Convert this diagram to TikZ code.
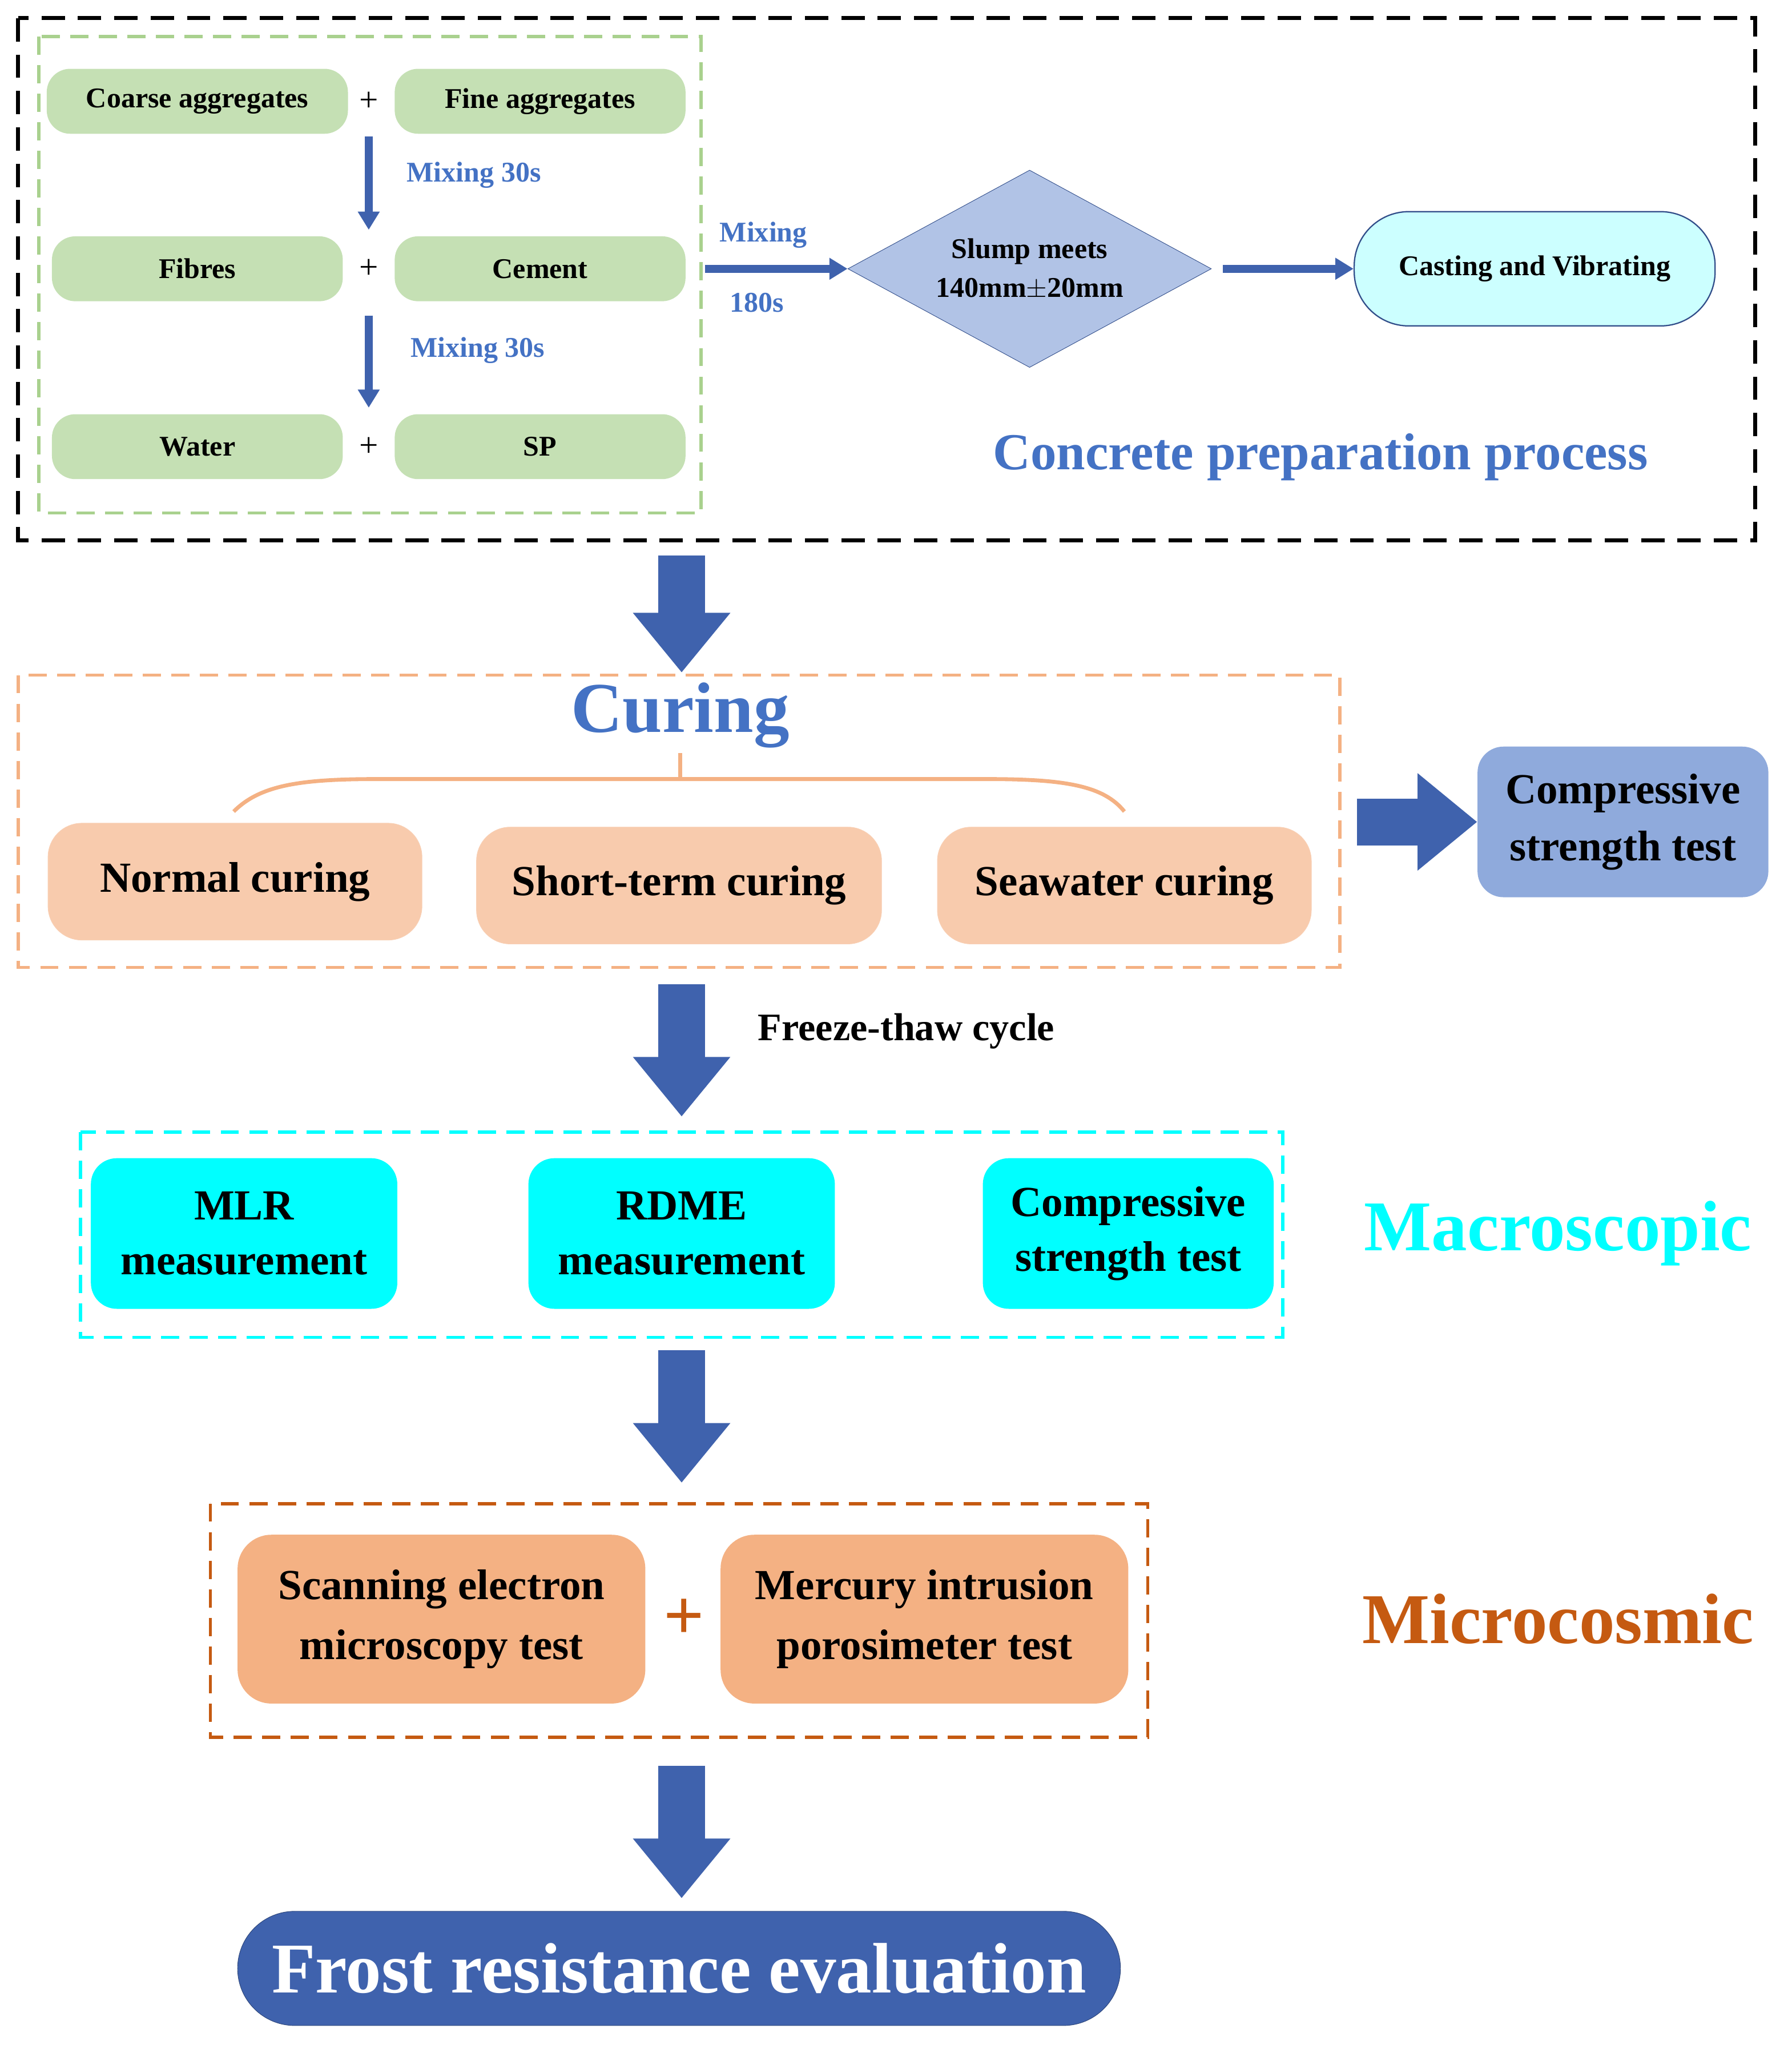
\documentclass[tikz,border=0pt]{standalone}
\usepackage{fontspec}
\setmainfont{Liberation Serif}
\usetikzlibrary{arrows.meta,shapes.geometric}
\definecolor{arrowblue}{HTML}{3F62AD}
\definecolor{textblue}{HTML}{4472C4}
\definecolor{greenfill}{HTML}{C5E0B4}
\definecolor{greenline}{HTML}{A9D18E}
\definecolor{orangefill}{HTML}{F8CBAD}
\definecolor{orangeline}{HTML}{F4B183}
\definecolor{brownline}{HTML}{C55A11}
\definecolor{brownfill}{HTML}{F4B183}
\definecolor{steelfill}{HTML}{8FAADC}
\definecolor{aqua}{HTML}{00FFFF}
\tikzset{
  mix/.style={rounded corners=18pt,fill=greenfill,draw=none,minimum height=50pt,font=\bfseries\fontsize{22}{24}\selectfont},
  cure/.style={rounded corners=26pt,fill=orangefill,draw=orangeline!60,minimum width=288pt,minimum height=90pt,font=\bfseries\fontsize{33}{36}\selectfont},
  macro/.style={rounded corners=20pt,fill=aqua,draw=none,minimum height=116pt,align=center,font=\bfseries\fontsize{33}{42}\selectfont},
  micro/.style={rounded corners=26pt,fill=brownfill,draw=none,minimum width=314pt,minimum height=130pt,align=center,font=\bfseries\fontsize{33}{46}\selectfont},
  smallarrow/.style={draw=arrowblue,line width=6pt,-{Triangle[width=16pt,length=14pt]}},
  bigarrow/.style={draw=arrowblue,line width=36pt,-{Triangle[width=72pt,length=46pt]}},
  mixlabel/.style={text=textblue,font=\bfseries\fontsize{22}{24}\selectfont},
  plus/.style={font=\fontsize{26}{28}\selectfont},
}
\begin{document}
\begin{tikzpicture}[x=1pt,y=1pt,yscale=-1]
\useasboundingbox (0,0) rectangle (1380,1575);

% concrete preparation
\draw[dashed,line width=3pt,dash pattern=on 18pt off 10pt] (14,14) rectangle (1352,416);
\draw[dashed,line width=2.5pt,greenline,dash pattern=on 14pt off 8pt] (30,28) rectangle (540,395);
\node[mix,minimum width=232pt] (coarse) at (152,78) {Coarse aggregates};
\node[mix,minimum width=224pt] (fine) at (416,78) {Fine aggregates};
\node[mix,minimum width=224pt] (fibres) at (152,207) {Fibres};
\node[mix,minimum width=224pt] (cement) at (416,207) {Cement};
\node[mix,minimum width=224pt] (water) at (152,344) {Water};
\node[mix,minimum width=224pt] (sp) at (416,344) {SP};
\node[plus] (p1) at (284,78) {+};
\node[plus] (p2) at (284,207) {+};
\node[plus] (p3) at (284,344) {+};
\draw[smallarrow] (284,105) -- (284,177);
\node[mixlabel] at (365,135) {Mixing 30s};
\draw[smallarrow] (284,243) -- (284,314);
\node[mixlabel] at (368,270) {Mixing 30s};
\node[diamond,draw=arrowblue!80!black,fill=steelfill!70,minimum width=280pt,minimum height=152pt,inner sep=0pt,align=center,font=\bfseries\fontsize{22}{30}\selectfont] (slump) at (793,207) {};
\node[align=center,font=\bfseries\fontsize{22}{30}\selectfont] at (slump) {Slump meets\\140mm$\pm$20mm};
\node[rounded corners=42pt,fill=aqua!20,draw=arrowblue!80!black,line width=1pt,minimum width=278pt,minimum height=88pt,font=\bfseries\fontsize{22}{24}\selectfont] (cast) at (1182,207) {Casting and Vibrating};
\draw[smallarrow] (543,207) -- (slump.west);
\node[mixlabel] at (588,181) {Mixing};
\node[mixlabel] at (583,233) {180s};
\draw[smallarrow] (942,207) -- (cast.west);
\node[text=textblue,font=\bfseries\fontsize{40}{44}\selectfont] (prep) at (1017,352) {Concrete preparation process};

\draw[bigarrow] (525,428) -- (525,518);

% curing
\draw[dashed,line width=2.5pt,orangeline,dash pattern=on 14pt off 8pt] (14,520) rectangle (1032,745);
\node[text=textblue,font=\bfseries\fontsize{55}{60}\selectfont] (curing) at (524,551) {Curing};
\draw[orangeline,line width=3pt] (180,625) .. controls (200,605) and (230,600) .. (290,600) -- (760,600) .. controls (820,600) and (850,605) .. (866,625);
\draw[orangeline,line width=3pt] (524,580) -- (524,600);
\node[cure] (normal) at (181,679) {Normal curing};
\node[cure,minimum width=312pt] (short) at (523,682) {Short-term curing};
\node[cure] (sea) at (866,682) {Seawater curing};
\node[rounded corners=20pt,fill=steelfill,draw=none,minimum width=224pt,minimum height=116pt,align=center,font=\bfseries\fontsize{33}{44}\selectfont] (comp1) at (1250,633) {Compressive\\strength test};
\draw[bigarrow] (1045,633) -- (comp1.west);

\draw[bigarrow] (525,758) -- (525,860);
\node[font=\bfseries\fontsize{30}{32}\selectfont] (ft) at (698,794) {Freeze-thaw cycle};

% macroscopic
\draw[dashed,line width=2.5pt,aqua,dash pattern=on 14pt off 8pt] (62,872) rectangle (988,1030);
\node[macro,minimum width=236pt] (mlr) at (188,950) {MLR\\measurement};
\node[macro,minimum width=236pt] (rdme) at (525,950) {RDME\\measurement};
\node[macro,minimum width=224pt] (comp2) at (869,950) {Compressive\\strength test};
\node[text=aqua,font=\bfseries\fontsize{55}{60}\selectfont] (macroscopic) at (1200,950) {Macroscopic};

\draw[bigarrow] (525,1040) -- (525,1142);

% microcosmic
\draw[dashed,line width=2.5pt,brownline,dash pattern=on 14pt off 8pt] (162,1158) rectangle (884,1338);
\node[micro] (sem) at (340,1247) {Scanning electron\\microscopy test};
\node[micro] (mip) at (712,1247) {Mercury intrusion\\porosimeter test};
\node[text=brownline,font=\bfseries\fontsize{55}{60}\selectfont] (p4) at (527,1247) {+};
\node[text=brownline,font=\bfseries\fontsize{55}{60}\selectfont] (microcosmic) at (1200,1247) {Microcosmic};

\draw[bigarrow] (525,1360) -- (525,1462);
\node[rounded corners=44pt,fill=arrowblue,draw=arrowblue!70!black,minimum width=680pt,minimum height=88pt,text=white,font=\bfseries\fontsize{55}{60}\selectfont] (frost) at (523,1516) {Frost resistance evaluation};
\end{tikzpicture}
\end{document}
